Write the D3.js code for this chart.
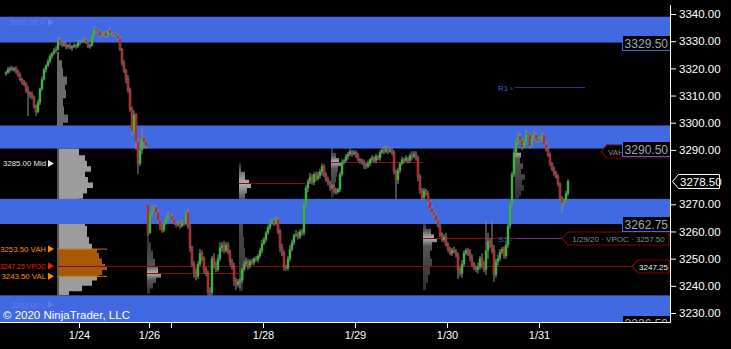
<!DOCTYPE html>
<html>
<head>
<meta charset="utf-8">
<script src="https://cdn.jsdelivr.net/npm/d3@7"></script>
<style>
html, body { margin: 0; padding: 0; background: #000; }
svg { display: block; font-family: "Liberation Sans", Arial, sans-serif; }
</style>
</head>
<body>
<div id="chart"></div>
<script>
// ---- 30 min bars, ES 03-20, 1/23 .. 1/31 (closes)
var closes = [
  // 1/23 (tail)
  3318.5,3319.5,3320,3319.5,3320,3319,3317.5,3316,3315,3314,3312,3311,3310.5,3309.5,3306,3304,3307.5,3312.5,3316,3319.5,3321,3322.5,3324.5,3325.5,3326.5,3327,
  // 1/24
  3330.5,3329.5,3328.5,3329,3328,3328.5,3327.5,3328,3328.5,3328,3329.5,3330,3330,3330.5,3330,3328,3328.5,3332,3334.5,3334,3333.5,3332,3332.5,3333,3332,3334,3333,3333,3332.5,3332,3331,3327,3322,3319,3316,3312,3305,3297,3303,3293,3285,3290,3294.5,3293,3291.5,
  // 1/27
  3259.5,3266,3268,3269,3267,3264,3262,3260.5,3263,3265,3266,3265.5,3264.5,3263,3262.5,3263,3262,3263.5,3263,3267,3262,3254,3248,3245,3243.5,3248,3252,3250,3246,3244.5,3238,3237.5,3250,3248,3246,3250,3254,3255,3253,3255,3252.5,3249,3247,3242,3240.5,3241.5,
  // 1/28
  3242,3246,3248,3249,3247.5,3249,3248.5,3250,3249.5,3251,3253,3255.5,3257,3259.5,3261.5,3263,3264,3263,3264.5,3260,3254,3252,3247,3246.5,3250,3253.5,3256,3258.5,3259,3258,3260,3259.5,3270,3276,3278.5,3280,3278,3281,3279.5,3280.5,3282,3284,3281,3279,3278,3276.5,
  // 1/29
  3276.5,3275,3274.5,3275.5,3281,3285.5,3286,3287.5,3288.5,3289.5,3288.5,3289,3288,3286.5,3286,3285.5,3284.5,3284,3285,3286.5,3287,3286,3287.5,3287,3289,3290,3289.5,3290.5,3289.5,3290,3289,3282,3279,3282.5,3285,3286.5,3286,3287,3286,3288,3287.5,3288.5,3287,3280,3275,3272.5,
  // 1/30
  3275,3274,3271,3268.5,3267,3266,3264,3262,3259,3257,3258,3255,3253.5,3252,3253,3252.5,3251.5,3246,3244.5,3248,3252,3253,3252,3250.5,3248,3246.5,3246,3247,3250,3248,3246,3253,3256.5,3255,3253,3244,3249,3250,3252.5,3253.5,3251,3255,3262,3270,3281,3289,
  // 1/31
  3293,3295,3293.5,3291,3293,3296,3295.5,3291.5,3294.5,3295.5,3294,3293.5,3294,3295.5,3292,3290.5,3288,3285,3283,3281.5,3280,3277.5,3272,3270.5,3271.5,3274,3278.5
];
// wick above the body / below the body, in points
var wickUp = [
  0.5,1,0.75,1,0.5,0.75,0.5,1,0.5,0.75,1,1.5,0.5,1,0.5,0.75,1,0.5,1,0.75,0.5,1,0.75,0.5,1,1.25,
  1,0.75,0.5,1,0.75,0.5,1,0.5,0.75,0.5,1,0.75,0.5,1,0.5,0.75,0.5,1,1,0.75,0.5,0.75,1,0.5,0.75,0.5,1,0.75,0.5,0.5,0.75,1,0.5,1,0.75,1.5,1,1,1.5,0.5,1,3,3.5,1,0.75,
  0.5,1,1.5,1,0.75,1,0.5,1,0.75,1,1.5,0.5,1,0.75,0.5,1,0.75,1,0.5,1,1.5,1,0.75,1,1.5,1,1.5,1,0.75,1,1,1.5,1,2,1,1.5,2,1,1.5,1,1,0.75,1,1.5,1,1,
  1,0.75,1,1.5,1,0.75,1,0.5,1,0.75,1,1.5,1,0.75,1,1.5,1,0.75,1,0.5,1,1.5,1,0.75,1,1.5,1,0.75,1.5,1,0.75,1,1,1,0.75,1.5,1,0.75,1,1.5,1,1,0.75,1,1,0.75,
  1,0.75,1,0.5,1,1,0.75,1,0.75,1,0.5,1,0.75,1,0.5,0.75,1,0.75,1,0.5,1,0.75,1,0.5,1,1,1.5,1,0.75,1,1,1,0.75,1,0.5,1,0.75,1,0.5,1,1.5,1,1,0.75,1,1,
  1,0.75,1,0.5,1,0.75,1,0.5,1,0.75,1,1.5,1,0.75,1,1.5,1,0.75,1,1.5,1,0.75,1,1.5,1,0.75,1,1.5,1,2,1,11,3,1,9,2,1,1.5,1,0.75,1,1,1,1,1,1.5,
  1,1.5,1,0.75,1,1.5,1,0.75,1,1.5,1,0.75,1,1,0.75,1,0.75,1,0.5,1,0.75,1,0.5,1,0.75,1,0.75
];
var wickDn = [
  0.75,0.5,1,0.5,0.75,1,0.5,0.75,1,0.5,1,8.5,1.5,1,0.75,1.5,0.5,1,0.75,0.5,1,0.5,0.75,1,0.5,0.75,
  0.5,1,0.75,0.5,1,0.75,0.5,1,0.5,0.75,0.5,1,0.75,0.5,1,0.5,0.75,0.5,0.75,1,0.5,0.75,0.5,1,0.75,0.5,0.5,0.75,1,0.5,0.75,0.5,1,0.75,1.5,1,1,1.5,1,3,4,1,1.5,2.5,1,
  1,0.5,1,0.75,1,0.5,1.5,1,0.75,0.5,1,0.75,1,0.5,1,0.75,1,0.5,1,0.75,1,1.5,1,2,1.5,1,0.75,1,1.5,1,1.5,1.5,1,1.5,1,0.75,1,1.5,1,0.75,1,1.5,1,2,2,1,
  2.5,1,0.75,1,1.5,1,0.75,1,0.5,1,0.75,1,0.5,1,0.75,1,0.5,1,0.75,1,1.5,1,1.5,1,0.75,1,0.75,1,0.5,1,0.75,1,1,1,1.5,1,0.75,1,1,0.75,1,1.5,1,0.75,1,1.5,
  1,0.75,1,0.5,1,0.75,1,0.5,1,0.75,1,0.5,1,0.75,1,1,1.5,1,0.75,1,1,0.5,1,0.75,1,0.5,1,0.75,1,0.5,1,1,7,1.5,1,0.75,1,0.5,1,0.75,1,0.5,1,1.5,1,1,
  1,0.75,1,0.5,1,0.75,1,0.5,1,0.75,1,0.5,1,0.75,1,0.5,1,3.5,1,1.5,1,0.75,1,1.5,1,0.75,1,1.5,1,1.5,1,2,3,1,1,2.5,1,1.5,1,0.75,1,1,1,1,1,1,
  1.5,1,0.75,1,0.5,1,0.75,1,0.5,1,0.75,1,0.5,1,0.75,1,0.5,1,0.75,1,0.5,1,0.75,4,1,0.75,1
];
// bars whose open is not the previous close (first bar, Sunday gap)
var gapOpens = [[0, 3318], [71, 3270]];

// x axis: bar index of each date tick
var dateTickIdx = [37, 72, 83, 129, 175, 221, 267];
var dateTickLabels = ["1/24", "1/26", "", "1/28", "1/29", "1/30", "1/31"];
// 3280 is hidden behind the last price flag
var priceTicks = [3230, 3240, 3250, 3260, 3270, 3290, 3300, 3310, 3320, 3330, 3340];

// supply / demand zones [low, high]
var zones = [[3329.5, 3339], [3290.5, 3299], [3262.75, 3272], [3226.5, 3236.5]];

// composite profile (price, volume k)
var compStart = 26;
var compUpper = [[3326,4],[3323,10],[3320,12],[3317,20],[3314,16],[3312,18],[3309,12],[3306,14],[3303,22],[3300,12],[3297,8],[3294,10],[3291,8]];
var compLower = [[3290.5,44],[3288,56],[3286,60],[3284,68],[3282,56],[3280,62],[3278,72],[3276,60],[3274,52],[3272,44],[3268,48],[3265,56],[3262,60],[3258,64],[3255.5,70],[3253.5,80],[3252,84],[3250,90],[3248,96],[3247.25,100],[3246,90],[3244,84],[3243.5,80],[3242,70],[3240,50],[3238,24],[3236.5,4]];
var compHigh = 3337, compLow = 3233, compMid = 3285;
var compVAH = 3253.5, compVPOC = 3247.25, compVAL = 3243.5;

// session profiles
var sessStarts = [71, 117, 163, 209, 255];
var sessPocs = [3244.75, 3277.75, 3285.5, 3257.5, 3289];
var sessProfiles = [
  [[3259,4],[3256,8],[3253,12],[3250,16],[3247,22],[3244.75,28],[3243,18],[3241,12],[3239,6],[3237,2]],
  [[3285,4],[3282,12],[3279,20],[3277.75,24],[3276,16],[3274,12],[3270,10],[3266,8],[3262,8],[3258,10],[3254,12],[3250,14],[3246,10],[3242,8],[3238,4]],
  [[3291,4],[3289,10],[3287,16],[3285.5,20],[3284,14],[3282,12],[3280,10],[3278,8],[3276,10],[3274,6],[3272.5,2]],
  [[3263,6],[3261,16],[3259,22],[3257.5,28],[3256,18],[3253,14],[3250,18],[3247,14],[3244,10],[3241,6],[3238.5,2]],
  [[3291,4],[3289,12],[3287,10],[3285,16],[3283,12],[3281,20],[3279,14],[3277,18],[3275,12],[3273,8],[3272,2]]
];
// naked POC lines [price, from bar, to bar]
var pocLines = [[3247.25, 26, 313.5], [3244.75, 71, 117], [3277.75, 117, 150], [3285.5, 163, 209], [3257.5, 209, 278.5]];
var pivots = [["R1", 3313], ["S1", 3257.75]];
var pivotFrom = 255, pivotTo = 290;
var lastPrice = 3278.5;

var W = 731, H = 349;
var plotTop = 5, plotBottom = 322, plotRight = 670;

var x = d3.scaleLinear().domain([-2.5, 332.5]).range([0, plotRight]);
var y = d3.scaleLinear().domain([3230, 3340]).range([313, 14]);
var vx = d3.scaleLinear().domain([0, 100]).range([0, 50]);
var fmt = d3.format(".2f");

var gapMap = new Map(gapOpens);
var bars = closes.map(function (c, i) {
  var o = gapMap.has(i) ? gapMap.get(i) : closes[i - 1];
  var top = Math.max(o, c), bot = Math.min(o, c);
  return { i: i, o: o, c: c, h: top + wickUp[i], l: bot - wickDn[i] };
});

var svg = d3.select("#chart").append("svg").attr("width", W).attr("height", H);
svg.append("rect").attr("width", W).attr("height", H).attr("fill", "#000");
var defs = svg.append("defs");
defs.append("clipPath").attr("id", "plotClip").append("rect")
  .attr("x", 0).attr("y", plotTop).attr("width", plotRight).attr("height", plotBottom - plotTop);

var g = svg.append("g").attr("clip-path", "url(#plotClip)");

function profArea(x0) {
  return d3.area().curve(d3.curveStepBefore)
    .y(function (d) { return y(d[0]); })
    .x0(x0)
    .x1(function (d) { return x0 + vx(d[1]); });
}

// composite profile
var cx0 = x(compStart);
g.append("path").datum(compUpper).attr("d", profArea(cx0)).attr("fill", "#6a6a6a");
g.append("path").datum(compLower).attr("d", profArea(cx0)).attr("fill", "#9c9c9c");
g.append("path").datum(compLower.filter(function (d) { return d[0] <= compVAH && d[0] >= compVAL; }))
  .attr("d", profArea(cx0)).attr("fill", "#a95806");
g.append("rect").attr("x", cx0).attr("y", y(3290.5)).attr("width", 2).attr("height", y(3236.5) - y(3290.5)).attr("fill", "#555");

// session profiles with a gradient lighter at the POC
sessProfiles.forEach(function (p, k) {
  var x0 = x(sessStarts[k]);
  var yTop = y(p[0][0]), yBot = y(p[p.length - 1][0]);
  var off = (y(sessPocs[k]) - yTop) / (yBot - yTop);
  var gid = "sg" + k;
  var grad = defs.append("linearGradient").attr("id", gid)
    .attr("gradientUnits", "userSpaceOnUse").attr("x1", 0).attr("x2", 0).attr("y1", yTop).attr("y2", yBot);
  grad.append("stop").attr("offset", 0).attr("stop-color", "#2e2e2e");
  grad.append("stop").attr("offset", Math.max(0, off - 0.12)).attr("stop-color", "#555");
  grad.append("stop").attr("offset", off).attr("stop-color", "#b4b4b4");
  grad.append("stop").attr("offset", Math.min(1, off + 0.12)).attr("stop-color", "#555");
  grad.append("stop").attr("offset", 1).attr("stop-color", "#2e2e2e");
  g.append("path").datum(p).attr("d", profArea(x0)).attr("fill", "url(#" + gid + ")");
});

// zones
g.selectAll("rect.zone").data(zones).enter().append("rect").attr("class", "zone")
  .attr("x", 0).attr("width", plotRight)
  .attr("y", function (d) { return y(d[1]); })
  .attr("height", function (d) { return y(d[0]) - y(d[1]); })
  .attr("fill", "#4169e1");

// VAH / VAL short lines, POC lines
[compVAH, compVAL].forEach(function (v) {
  g.append("line").attr("x1", cx0).attr("x2", cx0 + vx(100)).attr("y1", y(v)).attr("y2", y(v))
    .attr("stroke", "#d2780a").attr("stroke-width", 1);
});
g.selectAll("line.poc").data(pocLines).enter().append("line").attr("class", "poc")
  .attr("x1", function (d) { return x(d[1]); }).attr("x2", function (d) { return x(d[2]); })
  .attr("y1", function (d) { return Math.round(y(d[0])) + 0.5; })
  .attr("y2", function (d) { return Math.round(y(d[0])) + 0.5; })
  .attr("stroke", "#8c0a0a").attr("stroke-width", 1);

// pivots
pivots.forEach(function (p, k) {
  var yy = Math.round(y(p[1])) + 0.5;
  g.append("line").attr("x1", x(pivotFrom)).attr("x2", x(pivotTo)).attr("y1", yy).attr("y2", yy)
    .attr("stroke", k === 0 ? "#28378c" : "rgba(80,70,190,0.75)").attr("stroke-width", 1);
  g.append("text").attr("x", x(pivotFrom) - 2).attr("y", yy + 3).attr("text-anchor", "end")
    .attr("font-size", 8).attr("fill", "#2f64dc").text(p[0] + " \u203a");
});

// candles: gray wick, coloured body with gray outline
var bar = g.append("g").selectAll("g").data(bars).enter().append("g");
bar.append("line")
  .attr("x1", function (d) { return x(d.i) + 1; }).attr("x2", function (d) { return x(d.i) + 1; })
  .attr("y1", function (d) { return y(d.h); }).attr("y2", function (d) { return y(d.l); })
  .attr("stroke", "#888").attr("stroke-width", 1.1);
bar.append("rect")
  .attr("x", function (d) { return x(d.i); })
  .attr("width", 2)
  .attr("y", function (d) { return y(Math.max(d.o, d.c)); })
  .attr("height", function (d) { return Math.max(1.2, Math.abs(y(d.o) - y(d.c))); })
  .attr("fill", function (d) { return d.c >= d.o ? "#10e010" : "#d81010"; })
  .attr("stroke", "#6e6e6e").attr("stroke-width", 0.5);

// composite labels on the left
function leftLabel(v, txt, col, len) {
  var yy = y(v);
  var t = g.append("text").attr("x", 46).attr("y", yy + 2.8).attr("text-anchor", "end")
    .attr("font-size", 7.8).attr("fill", col).text(txt);
  if (len) t.attr("textLength", len).attr("lengthAdjust", "spacingAndGlyphs");
  g.append("path").attr("d", "M48," + (yy - 3.5) + "L54," + yy + "L48," + (yy + 3.5) + "Z").attr("fill", col);
}
leftLabel(compHigh, fmt(compHigh) + " H", "#5a80ea");
leftLabel(compMid, fmt(compMid) + " Mid", "#e6e6e6");
leftLabel(compVAH, fmt(compVAH) + " VAH", "#ff8c00");
leftLabel(compVPOC, fmt(compVPOC) + " VPOC", "#ff1a10", 46);
leftLabel(compVAL, fmt(compVAL) + " VAL", "#ff8c00");
leftLabel(compLow, fmt(compLow) + " L", "#5a80ea");

g.append("text").attr("x", 3).attr("y", 319).attr("font-size", 11.5).attr("fill", "#fff")
  .text("\u00a9 2020 NinjaTrader, LLC");

// right side markers
function marker(xTip, v, txt, txtCol, fs, anchorX) {
  var yy = Math.round(y(v)) + 0.5, h = 6.5;
  g.append("path")
    .attr("d", "M" + xTip + "," + yy + "L" + (xTip + 6) + "," + (yy - h) + "L669," + (yy - h) + "L669," + (yy + h) + "L" + (xTip + 6) + "," + (yy + h) + "Z")
    .attr("fill", "#000").attr("stroke", "#7a0606").attr("stroke-width", 1.2);
  g.append("text").attr("x", anchorX || (xTip + 6 + 669) / 2).attr("y", yy + 3)
    .attr("text-anchor", anchorX ? "start" : "middle")
    .attr("font-size", fs).attr("fill", txtCol).text(txt);
}
marker(601, 3289.75, "VAH", "#8a8a8a", 8, 608);
marker(x(278.5), 3257.5, "1/29/20 \u00b7 VPOC \u00b7 " + fmt(3257.5), "#8c8c8c", 8);
marker(x(313.5), compVPOC, fmt(compVPOC), "#f0f0f0", 8);

// zone labels
zones.forEach(function (z) {
  var yy = Math.round(y(z[0]));
  g.append("rect").attr("x", 622.5).attr("y", yy - 7.5).attr("width", 48).attr("height", 15)
    .attr("fill", "#000").attr("stroke", "#4169e1").attr("stroke-width", 1);
  g.append("text").attr("x", 668).attr("y", yy + 4.5).attr("text-anchor", "end")
    .attr("font-size", 12).attr("fill", "#a6a6a6").text(fmt(z[0]));
});

// axes
var xAxis = d3.axisBottom(x).tickValues(dateTickIdx)
  .tickFormat(function (d, i) { return dateTickLabels[i]; }).tickSize(6).tickSizeOuter(0);
var gx = svg.append("g").attr("transform", "translate(0," + plotBottom + ")").call(xAxis);
gx.select(".domain").remove();
gx.selectAll("line").attr("stroke", "#fff");
gx.selectAll("text").attr("fill", "#fff").attr("font-size", 11).attr("font-family", null);

var yAxis = d3.axisRight(y).tickValues(priceTicks).tickFormat(fmt).tickSize(6).tickSizeOuter(0);
var gy = svg.append("g").attr("transform", "translate(" + plotRight + ",0)").call(yAxis);
gy.select(".domain").remove();
gy.selectAll("line").attr("stroke", "#fff");
gy.selectAll("text").attr("fill", "#fff").attr("font-size", 11.5).attr("font-family", null);

svg.append("line").attr("x1", 0).attr("x2", plotRight + 0.5).attr("y1", plotBottom + 0.5).attr("y2", plotBottom + 0.5)
  .attr("stroke", "#fff");
svg.append("line").attr("x1", plotRight + 0.5).attr("x2", plotRight + 0.5).attr("y1", plotTop).attr("y2", plotBottom + 0.5)
  .attr("stroke", "#fff");

// last price
var ly = Math.round(y(lastPrice)) + 0.5;
svg.append("path")
  .attr("d", "M672.5," + ly + "L678.5," + (ly - 7) + "L719.5," + (ly - 7) + "L719.5," + (ly + 7) + "L678.5," + (ly + 7) + "Z")
  .attr("fill", "#000").attr("stroke", "#fff").attr("stroke-width", 1);
svg.append("text").attr("x", 680).attr("y", ly + 4).attr("font-size", 11.5).attr("fill", "#fff").text(fmt(lastPrice));
</script>
</body>
</html>
